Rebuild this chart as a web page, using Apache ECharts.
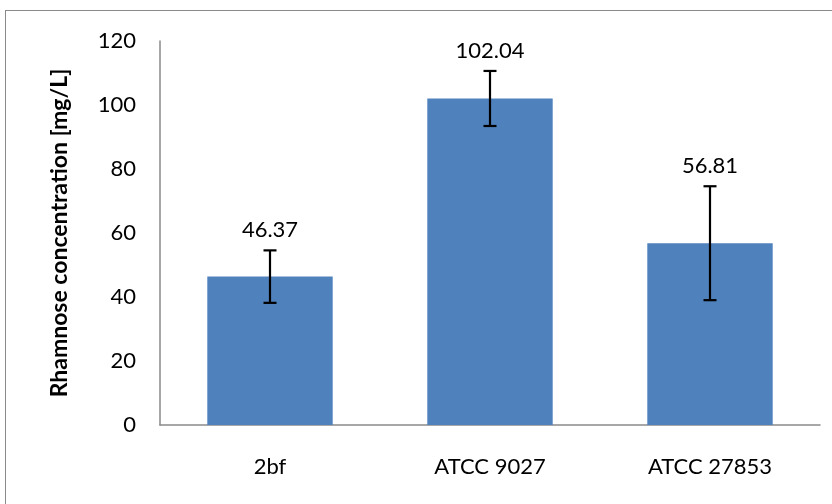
<!DOCTYPE html>
<html>
<head>
<meta charset="utf-8">
<script src="https://cdn.jsdelivr.net/npm/echarts@6/dist/echarts.min.js"></script>
<style>
html,body{margin:0;padding:0;background:#fff;overflow:hidden;}
#frame{position:absolute;left:5px;top:10px;width:840px;height:510px;border:1.5px solid #8a8a8a;box-sizing:border-box;}
#chart{position:absolute;left:0;top:0;width:832px;height:504px;}
</style>
</head>
<body>
<div id="frame"></div>
<div id="chart"></div>
<script>
var categories = ['2bf', 'ATCC 9027', 'ATCC 27853'];
var values = [46.37, 102.04, 56.81];
var errors = [8.2, 8.6, 17.8];
var yTicks = [0, 20, 40, 60, 80, 100, 120];

var chart = echarts.init(document.getElementById('chart'));
var font = 'Lato';
var errData = values.map(function (v, i) { return [i, v, errors[i]]; });

chart.setOption({
  animation: false,
  backgroundColor: 'transparent',
  grid: { left: 160, right: 12, top: 41, bottom: 79 },
  xAxis: {
    type: 'category',
    data: categories,
    axisLine: { show: true, lineStyle: { color: '#8a8a8a', width: 1.5 } },
    axisTick: { show: false },
    axisLabel: { color: '#000', fontFamily: font, fontSize: 22, margin: 31 }
  },
  yAxis: {
    type: 'value',
    min: yTicks[0],
    max: yTicks[yTicks.length - 1],
    interval: 20,
    name: 'Rhamnose concentration [mg/L]',
    nameLocation: 'middle',
    nameRotate: 90,
    nameGap: 89,
    nameTextStyle: { color: '#000', fontFamily: font, fontSize: 23, fontWeight: 'bold' },
    axisLine: { show: true, lineStyle: { color: '#8a8a8a', width: 1.5 } },
    axisTick: { show: false },
    splitLine: { show: false },
    axisLabel: { color: '#000', fontFamily: font, fontSize: 22, margin: 24 }
  },
  series: [
    {
      type: 'bar',
      data: values,
      barWidth: '57%',
      itemStyle: { color: '#4f81bd' }
    },
    {
      type: 'custom',
      data: errData,
      z: 10,
      renderItem: function (params, api) {
        var i = api.value(0), v = api.value(1), e = api.value(2);
        var top = api.coord([i, v + e]);
        var bot = api.coord([i, v - e]);
        var hw = 6.5;
        var st = { stroke: '#000', lineWidth: 2.2 };
        return {
          type: 'group',
          children: [
            { type: 'line', shape: { x1: top[0], y1: top[1], x2: bot[0], y2: bot[1] }, style: st },
            { type: 'line', shape: { x1: top[0] - hw, y1: top[1], x2: top[0] + hw, y2: top[1] }, style: st },
            { type: 'line', shape: { x1: bot[0] - hw, y1: bot[1], x2: bot[0] + hw, y2: bot[1] }, style: st },
            {
              type: 'text',
              style: {
                text: values[params.dataIndex].toFixed(2),
                x: top[0], y: top[1] - 20,
                align: 'center', verticalAlign: 'middle',
                fill: '#000', fontFamily: font, fontSize: 22
              }
            }
          ]
        };
      }
    }
  ]
});
</script>
</body>
</html>
